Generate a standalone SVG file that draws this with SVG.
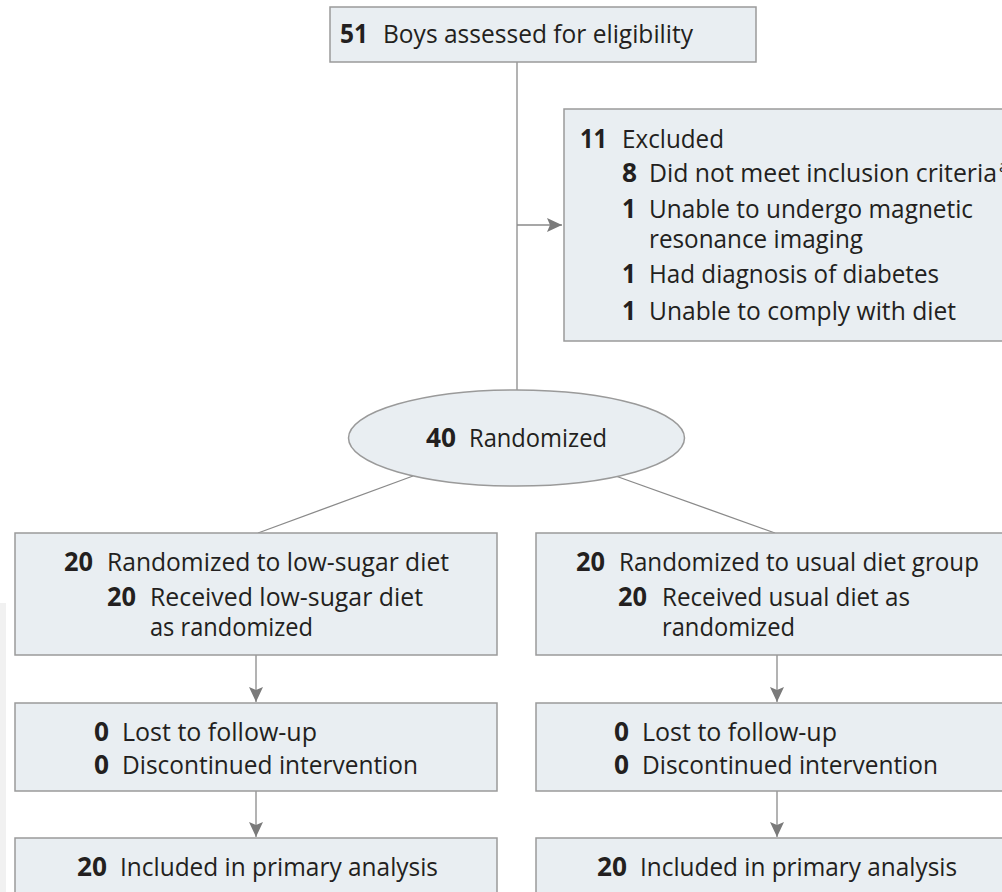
<svg xmlns="http://www.w3.org/2000/svg" width="1002" height="892" viewBox="0 0 1002 892">
<style>
.box{fill:#e9eef2;stroke:#9a9a9a;stroke-width:1.5}
.ln{fill:none;stroke:#8a8a8a;stroke-width:1.3}
text{font-family:"Open Sans","Noto Sans","Liberation Sans",sans-serif;font-size:26px;fill:#231f20}
.n{font-weight:700}
</style>
<defs>
<marker id="ah" markerUnits="userSpaceOnUse" markerWidth="16" markerHeight="14" refX="15" refY="7" orient="auto">
<path d="M0,0 L15,7 L0,14 L3,7 Z" fill="#7a7a7a"/>
</marker>
</defs>
<rect x="0" y="603" width="6" height="289" fill="#f1f1f1"/>
<g id="connectors">
<line class="ln" x1="517" y1="62" x2="517" y2="390"/>
<line class="ln" x1="517" y1="225" x2="562" y2="225" marker-end="url(#ah)"/>
<line class="ln" x1="413" y1="476" x2="258" y2="533"/>
<line class="ln" x1="617" y1="476.5" x2="775" y2="533"/>
<line class="ln" x1="256" y1="655" x2="256" y2="702" marker-end="url(#ah)"/>
<line class="ln" x1="777" y1="655" x2="777" y2="702" marker-end="url(#ah)"/>
<line class="ln" x1="256" y1="791" x2="256" y2="837" marker-end="url(#ah)"/>
<line class="ln" x1="777" y1="791" x2="777" y2="837" marker-end="url(#ah)"/>
</g>
<g id="assessed">
<rect class="box" x="330" y="7" width="426" height="55"/>
<text class="n" x="340" y="43" textLength="28" lengthAdjust="spacingAndGlyphs">51</text>
<text x="383" y="43" textLength="310" lengthAdjust="spacingAndGlyphs">Boys assessed for eligibility</text>
</g>
<g id="excluded">
<rect class="box" x="564" y="109" width="450" height="232"/>
<text class="n" x="580" y="148" textLength="27" lengthAdjust="spacingAndGlyphs">11</text>
<text x="622" y="148" textLength="102" lengthAdjust="spacingAndGlyphs">Excluded</text>
<text class="n" x="622" y="182" textLength="15" lengthAdjust="spacingAndGlyphs">8</text>
<text x="649" y="182" textLength="348" lengthAdjust="spacingAndGlyphs">Did not meet inclusion criteria</text>
<text x="999" y="172" style="font-size:16px">a</text>
<text class="n" x="622" y="218" textLength="14" lengthAdjust="spacingAndGlyphs">1</text>
<text x="649" y="218" textLength="324" lengthAdjust="spacingAndGlyphs">Unable to undergo magnetic</text>
<text x="649" y="248" textLength="214" lengthAdjust="spacingAndGlyphs">resonance imaging</text>
<text class="n" x="622" y="283" textLength="14" lengthAdjust="spacingAndGlyphs">1</text>
<text x="649" y="283" textLength="290" lengthAdjust="spacingAndGlyphs">Had diagnosis of diabetes</text>
<text class="n" x="622" y="320" textLength="14" lengthAdjust="spacingAndGlyphs">1</text>
<text x="649" y="320" textLength="307" lengthAdjust="spacingAndGlyphs">Unable to comply with diet</text>
</g>
<g id="randomized">
<ellipse class="box" cx="516.5" cy="438" rx="168" ry="48"/>
<text class="n" x="426" y="447" textLength="30" lengthAdjust="spacingAndGlyphs">40</text>
<text x="469" y="447" textLength="138" lengthAdjust="spacingAndGlyphs">Randomized</text>
</g>
<g id="lowsugar">
<rect class="box" x="15" y="533" width="482" height="122"/>
<text class="n" x="64" y="571" textLength="29" lengthAdjust="spacingAndGlyphs">20</text>
<text x="107" y="571" textLength="342" lengthAdjust="spacingAndGlyphs">Randomized to low-sugar diet</text>
<text class="n" x="107" y="606" textLength="29" lengthAdjust="spacingAndGlyphs">20</text>
<text x="150" y="606" textLength="273" lengthAdjust="spacingAndGlyphs">Received low-sugar diet</text>
<text x="150" y="636" textLength="163" lengthAdjust="spacingAndGlyphs">as randomized</text>
</g>
<g id="usual">
<rect class="box" x="536" y="533" width="480" height="122"/>
<text class="n" x="576" y="571" textLength="29" lengthAdjust="spacingAndGlyphs">20</text>
<text x="619" y="571" textLength="360" lengthAdjust="spacingAndGlyphs">Randomized to usual diet group</text>
<text class="n" x="618" y="606" textLength="29" lengthAdjust="spacingAndGlyphs">20</text>
<text x="662" y="606" textLength="248" lengthAdjust="spacingAndGlyphs">Received usual diet as</text>
<text x="662" y="636" textLength="133" lengthAdjust="spacingAndGlyphs">randomized</text>
</g>
<g id="followup-low">
<rect class="box" x="15" y="703" width="482" height="88"/>
<text class="n" x="94" y="741" textLength="15" lengthAdjust="spacingAndGlyphs">0</text>
<text x="122" y="741" textLength="195" lengthAdjust="spacingAndGlyphs">Lost to follow-up</text>
<text class="n" x="94" y="774" textLength="15" lengthAdjust="spacingAndGlyphs">0</text>
<text x="122" y="774" textLength="296" lengthAdjust="spacingAndGlyphs">Discontinued intervention</text>
</g>
<g id="followup-usual">
<rect class="box" x="536" y="703" width="480" height="88"/>
<text class="n" x="614" y="741" textLength="15" lengthAdjust="spacingAndGlyphs">0</text>
<text x="642" y="741" textLength="195" lengthAdjust="spacingAndGlyphs">Lost to follow-up</text>
<text class="n" x="614" y="774" textLength="15" lengthAdjust="spacingAndGlyphs">0</text>
<text x="642" y="774" textLength="296" lengthAdjust="spacingAndGlyphs">Discontinued intervention</text>
</g>
<g id="analysis-low">
<rect class="box" x="15" y="838" width="482" height="80"/>
<text class="n" x="77" y="876" textLength="30" lengthAdjust="spacingAndGlyphs">20</text>
<text x="120" y="876" textLength="318" lengthAdjust="spacingAndGlyphs">Included in primary analysis</text>
</g>
<g id="analysis-usual">
<rect class="box" x="536" y="838" width="480" height="80"/>
<text class="n" x="597" y="876" textLength="30" lengthAdjust="spacingAndGlyphs">20</text>
<text x="640" y="876" textLength="317" lengthAdjust="spacingAndGlyphs">Included in primary analysis</text>
</g>
</svg>
